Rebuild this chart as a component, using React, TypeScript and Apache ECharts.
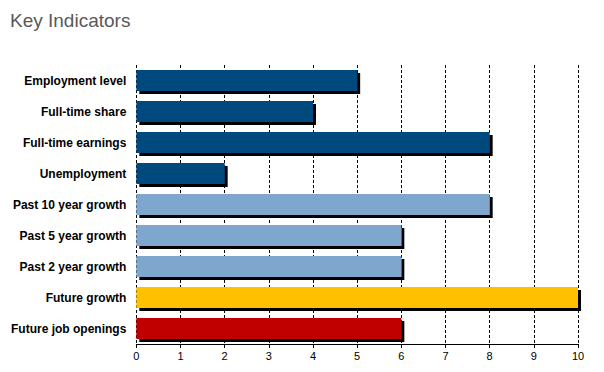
import React, { useEffect, useRef } from "react";
import * as echarts from "echarts";

const categories = [
  "Employment level",
  "Full-time share",
  "Full-time earnings",
  "Unemployment",
  "Past 10 year growth",
  "Past 5 year growth",
  "Past 2 year growth",
  "Future growth",
  "Future job openings",
];
const values = [5, 4, 8, 2, 8, 6, 6, 10, 6];
const barColors = [
  "#034a7f",
  "#034a7f",
  "#034a7f",
  "#034a7f",
  "#7fa6cd",
  "#7fa6cd",
  "#7fa6cd",
  "#ffc000",
  "#c00000",
];
const xTicks = [0, 1, 2, 3, 4, 5, 6, 7, 8, 9, 10];

export default function App() {
  const ref = useRef<HTMLDivElement>(null);
  useEffect(() => {
    if (!ref.current) return;
    const chart = echarts.init(ref.current, undefined, { renderer: "svg" });
    chart.setOption({
      animation: false,
      backgroundColor: "#ffffff",
      title: {
        text: "Key Indicators",
        left: -3,
        top: -2,
        textStyle: {
          fontFamily: "Liberation Sans",
          fontSize: 19,
          fontWeight: "normal",
          color: "#595959",
        },
      },
      grid: { left: 126, right: 18, top: 57, bottom: 20, containLabel: false },
      xAxis: {
        type: "value",
        min: xTicks[0],
        max: xTicks[xTicks.length - 1],
        interval: 1,
        axisLine: { show: true, lineStyle: { color: "#000", width: 1 } },
        axisTick: { show: true, length: 4, lineStyle: { color: "#000" } },
        axisLabel: {
          color: "#000",
          fontFamily: "Liberation Sans",
          fontSize: 11,
          margin: 6,
        },
        splitLine: {
          show: true,
          lineStyle: { color: "#000", type: [3, 2], width: 1 },
        },
      },
      yAxis: {
        type: "category",
        data: categories,
        inverse: true,
        axisLine: { show: false },
        axisTick: { show: false },
        axisLabel: {
          color: "#000",
          fontFamily: "Liberation Sans",
          fontSize: 12,
          fontWeight: "bold",
          margin: 10,
        },
      },
      series: [
        {
          type: "bar",
          barWidth: 21,
          data: values.map((v, i) => ({
            value: v,
            itemStyle: { color: barColors[i] },
          })),
          itemStyle: {
            shadowColor: "#000",
            shadowOffsetX: 3,
            shadowOffsetY: 3,
            shadowBlur: 0,
          },
        },
      ],
    });
    return () => chart.dispose();
  }, []);
  return <div ref={ref} style={{ width: 588, height: 356 }} />;
}
